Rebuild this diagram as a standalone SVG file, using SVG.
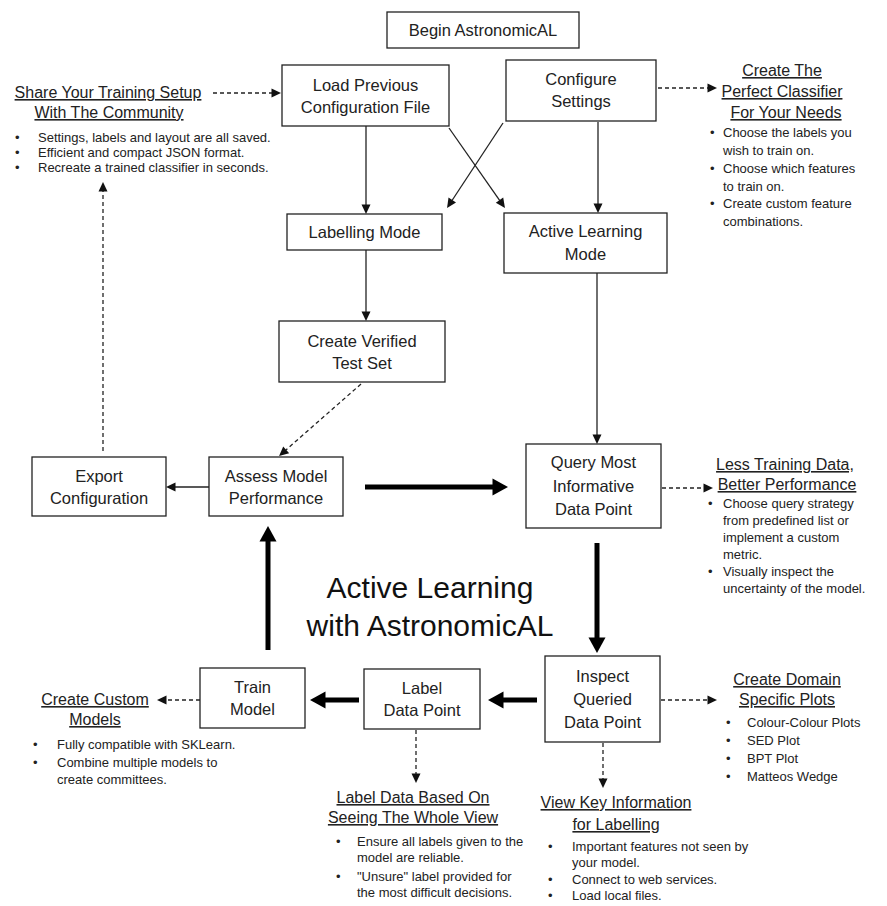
<svg xmlns="http://www.w3.org/2000/svg" width="887" height="906" viewBox="0 0 887 906">
<style>
.box rect{fill:#fff;stroke:#222;stroke-width:1.3}
.box text{font-family:"Liberation Sans",Arial,sans-serif;font-size:16.5px;fill:#222;text-anchor:middle}
.hd{font-family:"Liberation Sans",Arial,sans-serif;font-size:16px;fill:#222;text-anchor:middle;text-decoration:underline}
.bl{font-family:"Liberation Sans",Arial,sans-serif;font-size:13px;fill:#222}
.title{font-family:"Liberation Sans",Arial,sans-serif;font-size:30px;fill:#111;text-anchor:middle}
.thin{stroke:#222;stroke-width:1.3;fill:none;marker-end:url(#ah)}
.dash{stroke:#222;stroke-width:1.3;fill:none;stroke-dasharray:4 3;marker-end:url(#ah)}
.thick{stroke:#000;stroke-width:5;fill:none;marker-end:url(#ahb)}
</style>
<defs>
<marker id="ah" markerUnits="userSpaceOnUse" markerWidth="12" markerHeight="10" refX="0.5" refY="4.5" orient="auto" overflow="visible">
<path d="M0,0 L9.5,4.5 L0,9 z" fill="#111"/>
</marker>
<marker id="ahb" markerUnits="userSpaceOnUse" markerWidth="18" markerHeight="18" refX="0.5" refY="8.5" orient="auto" overflow="visible">
<path d="M0,0 L15.5,8.5 L0,17 z" fill="#000"/>
</marker>
</defs>
<rect width="887" height="906" fill="#fff"/>

<g id="connectors">
<line class="thin" x1="366" y1="126" x2="366" y2="205"/>
<line class="thin" x1="598" y1="122" x2="598" y2="204"/>
<line class="thin" x1="449" y1="128" x2="499.8" y2="200.6"/>
<line class="thin" x1="503" y1="123" x2="452" y2="200.5"/>
<line class="thin" x1="366" y1="250" x2="366" y2="312"/>
<line class="thin" x1="597" y1="273" x2="597" y2="435"/>
<line class="thin" x1="209" y1="487" x2="175" y2="487"/>
<line class="thick" x1="365" y1="487" x2="493" y2="487"/>
<line class="thick" x1="597" y1="543" x2="597" y2="638"/>
<line class="thick" x1="537" y1="700" x2="503" y2="700"/>
<line class="thick" x1="359" y1="700" x2="325" y2="700"/>
<line class="thick" x1="268" y1="650" x2="268" y2="541"/>
<line class="dash" x1="213" y1="93" x2="272" y2="93"/>
<line class="dash" x1="658" y1="88" x2="708" y2="88"/>
<line class="dash" x1="361" y1="384" x2="285.8" y2="450.1"/>
<line class="dash" x1="103" y1="451" x2="103" y2="191"/>
<line class="dash" x1="662" y1="488" x2="704" y2="488"/>
<line class="dash" x1="200" y1="700" x2="166" y2="700"/>
<line class="dash" x1="661" y1="700" x2="708" y2="700"/>
<line class="dash" x1="416" y1="730" x2="416" y2="774"/>
<line class="dash" x1="603" y1="743" x2="603" y2="779"/>
</g>

<g id="begin" class="box"><rect x="387" y="12" width="192" height="36"/><text x="483" y="36">Begin AstronomicAL</text></g>
<g id="load" class="box"><rect x="282" y="65" width="167" height="61"/><text x="365.5" y="91">Load Previous</text><text x="365.5" y="113">Configuration File</text></g>
<g id="configure" class="box"><rect x="506" y="60" width="150" height="61"/><text x="581" y="85">Configure</text><text x="581" y="107">Settings</text></g>
<g id="labelling" class="box"><rect x="287" y="214" width="155" height="36"/><text x="364.5" y="238">Labelling Mode</text></g>
<g id="activemode" class="box"><rect x="504" y="213" width="163" height="60"/><text x="585.5" y="237">Active Learning</text><text x="585.5" y="260">Mode</text></g>
<g id="verified" class="box"><rect x="279" y="321" width="166" height="61"/><text x="362" y="347">Create Verified</text><text x="362" y="369">Test Set</text></g>
<g id="export" class="box"><rect x="32" y="457" width="134" height="59"/><text x="99" y="482">Export</text><text x="99" y="504">Configuration</text></g>
<g id="assess" class="box"><rect x="209" y="457" width="134" height="59"/><text x="276" y="482">Assess Model</text><text x="276" y="504">Performance</text></g>
<g id="query" class="box"><rect x="526" y="444" width="135" height="84"/><text x="593.5" y="468">Query Most</text><text x="593.5" y="492">Informative</text><text x="593.5" y="515">Data Point</text></g>
<g id="train" class="box"><rect x="200" y="668" width="105" height="60"/><text x="252.5" y="693">Train</text><text x="252.5" y="715">Model</text></g>
<g id="label" class="box"><rect x="364" y="669" width="116" height="60"/><text x="422" y="694">Label</text><text x="422" y="716">Data Point</text></g>
<g id="inspect" class="box"><rect x="545" y="656" width="115" height="86"/><text x="602.5" y="682">Inspect</text><text x="602.5" y="705">Queried</text><text x="602.5" y="728">Data Point</text></g>

<g id="title"><text class="title" x="430" y="598">Active Learning</text><text class="title" x="430" y="636">with AstronomicAL</text></g>

<g id="share">
<text class="hd" x="108" y="98">Share Your Training Setup</text>
<text class="hd" x="109" y="118">With The Community</text>
<g class="bl"><text x="15" y="142">•</text><text x="38" y="142">Settings, labels and layout are all saved.</text>
<text x="15" y="157">•</text><text x="38" y="157">Efficient and compact JSON format.</text>
<text x="15" y="172">•</text><text x="38" y="172">Recreate a trained classifier in seconds.</text></g>
</g>

<g id="perfect">
<text class="hd" x="782" y="76">Create The</text>
<text class="hd" x="782" y="97">Perfect Classifier</text>
<text class="hd" x="786" y="118">For Your Needs</text>
<g class="bl"><text x="710" y="137">•</text><text x="723" y="137">Choose the labels you</text>
<text x="723" y="155">wish to train on.</text>
<text x="710" y="173">•</text><text x="723" y="173">Choose which features</text>
<text x="723" y="191">to train on.</text>
<text x="710" y="208">•</text><text x="723" y="208">Create custom feature</text>
<text x="723" y="226">combinations.</text></g>
</g>

<g id="less">
<text class="hd" x="785" y="470">Less Training Data,</text>
<text class="hd" x="787" y="490">Better Performance</text>
<g class="bl"><text x="708" y="508">•</text><text x="723" y="508">Choose query strategy</text>
<text x="723" y="525">from predefined list or</text>
<text x="723" y="542">implement a custom</text>
<text x="723" y="559">metric.</text>
<text x="708" y="576">•</text><text x="723" y="576">Visually inspect the</text>
<text x="723" y="593">uncertainty of the model.</text></g>
</g>

<g id="domain">
<text class="hd" x="787" y="685">Create Domain</text>
<text class="hd" x="787" y="705">Specific Plots</text>
<g class="bl"><text x="726" y="727">•</text><text x="747" y="727">Colour-Colour Plots</text>
<text x="726" y="745">•</text><text x="747" y="745">SED Plot</text>
<text x="726" y="763">•</text><text x="747" y="763">BPT Plot</text>
<text x="726" y="781">•</text><text x="747" y="781">Matteos Wedge</text></g>
</g>

<g id="custom">
<text class="hd" x="95" y="705">Create Custom</text>
<text class="hd" x="95" y="725">Models</text>
<g class="bl"><text x="33" y="749">•</text><text x="57" y="749">Fully compatible with SKLearn.</text>
<text x="33" y="767">•</text><text x="57" y="767">Combine multiple models to</text>
<text x="57" y="784">create committees.</text></g>
</g>

<g id="wholeview">
<text class="hd" x="413" y="803">Label Data Based On</text>
<text class="hd" x="413" y="823">Seeing The Whole View</text>
<g class="bl"><text x="336" y="846">•</text><text x="357" y="846">Ensure all labels given to the</text>
<text x="357" y="862">model are reliable.</text>
<text x="336" y="881">•</text><text x="357" y="881">"Unsure" label provided for</text>
<text x="357" y="897">the most difficult decisions.</text></g>
</g>

<g id="keyinfo">
<text class="hd" x="616" y="808">View Key Information</text>
<text class="hd" x="616" y="830">for Labelling</text>
<g class="bl"><text x="548" y="851">•</text><text x="572" y="851">Important features not seen by</text>
<text x="572" y="867">your model.</text>
<text x="548" y="884">•</text><text x="572" y="884">Connect to web services.</text>
<text x="548" y="900">•</text><text x="572" y="900">Load local files.</text></g>
</g>
</svg>
